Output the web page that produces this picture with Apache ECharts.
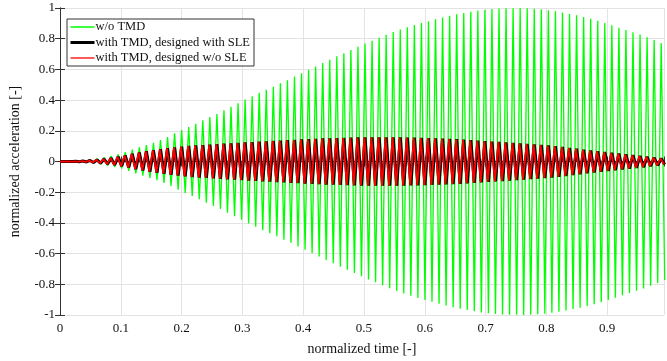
<!DOCTYPE html>
<html><head><meta charset="utf-8">
<script src="https://cdn.jsdelivr.net/npm/echarts@6/dist/echarts.min.js"></script>
<style>html,body{margin:0;padding:0;background:#fff}#c{width:667px;height:361px}</style>
</head><body><div id="c"></div>
<script>
// carrier period (normalized time)
const period = 0.0116;
// small phase lead of the red response relative to the black one
const redShift = -0.001;
// per-cycle amplitudes
const greenAmp = [0,0.001,0.003,0.006,0.012,0.018,0.027,0.036,0.047,0.061,
0.078,0.092,0.107,0.122,0.14,0.16,0.183,0.205,0.225,0.245,
0.268,0.289,0.31,0.333,0.356,0.38,0.403,0.425,0.447,0.468,
0.487,0.509,0.53,0.553,0.575,0.597,0.619,0.641,0.663,0.685,
0.705,0.726,0.747,0.768,0.787,0.806,0.825,0.843,0.86,0.875,
0.89,0.902,0.913,0.926,0.938,0.949,0.959,0.968,0.976,0.983,
0.989,0.993,0.996,0.998,0.999,1.0,0.998,0.995,0.991,0.985,
0.978,0.97,0.961,0.952,0.942,0.93,0.917,0.902,0.887,0.872,
0.857,0.842,0.827,0.81,0.792,0.772];
const blackAmp = [0,0.0005,0.001,0.003,0.007,0.011,0.016,0.022,0.03,0.039,
0.05,0.058,0.066,0.073,0.08,0.086,0.092,0.097,0.101,0.104,
0.107,0.11,0.113,0.116,0.118,0.121,0.124,0.126,0.129,0.131,
0.134,0.136,0.139,0.141,0.144,0.146,0.148,0.15,0.151,0.153,
0.154,0.156,0.157,0.158,0.158,0.158,0.158,0.158,0.157,0.156,
0.155,0.154,0.153,0.151,0.149,0.147,0.145,0.142,0.139,0.136,
0.133,0.13,0.127,0.124,0.121,0.118,0.115,0.112,0.108,0.105,
0.1,0.095,0.089,0.083,0.077,0.072,0.067,0.062,0.057,0.052,
0.047,0.042,0.037,0.031,0.026,0.02];
const redAmp = [0,0.0005,0.001,0.003,0.007,0.011,0.016,0.022,0.03,0.039,
0.049,0.057,0.065,0.072,0.079,0.085,0.091,0.096,0.1,0.103,
0.106,0.109,0.112,0.115,0.117,0.12,0.123,0.125,0.128,0.13,
0.133,0.135,0.138,0.14,0.143,0.145,0.147,0.149,0.15,0.152,
0.153,0.155,0.156,0.157,0.157,0.157,0.157,0.157,0.156,0.155,
0.154,0.153,0.152,0.15,0.148,0.146,0.144,0.141,0.138,0.135,
0.132,0.129,0.126,0.123,0.12,0.117,0.114,0.111,0.107,0.104,
0.099,0.094,0.088,0.082,0.076,0.071,0.066,0.061,0.056,0.051,
0.046,0.041,0.036,0.03,0.025,0.019];
const seriesNames = ['w/o TMD','with TMD, designed with SLE','with TMD, designed w/o SLE'];
const xTicks = [0,0.1,0.2,0.3,0.4,0.5,0.6,0.7,0.8,0.9];
const yTicks = [-1,-0.8,-0.6,-0.4,-0.2,0,0.2,0.4,0.6,0.8,1];

function build(amp, shift){
  const d=[[0,0]];
  amp.forEach((a,k)=>{ d.push([(k+0.25)*period+shift,a]); d.push([(k+0.75)*period+shift,-a]); });
  return d;
}
const font='"Liberation Serif","Times New Roman",serif';
const frame='#333';
const chart=echarts.init(document.getElementById('c'),null,{renderer:'canvas'});
const xCommon={type:'value',min:0,max:0.9935,interval:0.1,
  axisLine:{show:true,lineStyle:{color:frame,width:1}},
  axisTick:{show:true,inside:true,length:5,lineStyle:{color:frame}}};
const yCommon={type:'value',min:-1,max:1,interval:0.2,
  axisLine:{show:true,lineStyle:{color:frame,width:1}},
  axisTick:{show:true,inside:true,length:5,lineStyle:{color:frame}}};
chart.setOption({
  animation:false,
  grid:{left:56,right:1,top:8,bottom:45,containLabel:false},
  legend:{orient:'vertical',left:67,top:19,padding:[1.5,4,1.5,2],itemGap:2.5,itemWidth:24,itemHeight:13,
    backgroundColor:'#fff',borderColor:'#333',borderWidth:1,
    itemStyle:{opacity:0,borderWidth:0},
    textStyle:{fontFamily:font,fontSize:12.5,color:'#111',padding:[0,0,0,-4]},
    data:[{name:seriesNames[0],lineStyle:{width:1.5}},
          {name:seriesNames[1],lineStyle:{width:3}},
          {name:seriesNames[2],lineStyle:{width:1.3}}]},
  xAxis:[Object.assign({},xCommon,{position:'bottom',
      name:'normalized time [-]',nameLocation:'middle',nameGap:27,
      nameTextStyle:{fontFamily:font,fontSize:14,color:'#111'},
      axisLabel:{fontFamily:font,fontSize:13,color:'#111',margin:7,
        formatter:v=>xTicks.includes(Math.round(v*10)/10)?String(Math.round(v*10)/10):''},
      splitLine:{show:true,lineStyle:{color:'#e3e3e3',width:1}}}),
    Object.assign({},xCommon,{position:'top',axisLabel:{show:false},splitLine:{show:false}})],
  yAxis:[Object.assign({},yCommon,{position:'left',
      name:'normalized acceleration [-]',nameLocation:'middle',nameGap:38,
      nameTextStyle:{fontFamily:font,fontSize:14,color:'#111'},
      axisLabel:{fontFamily:font,fontSize:13,color:'#111',margin:5,
        formatter:v=>{const r=Math.round(v*10)/10; return yTicks.includes(r)?String(r):'';}},
      splitLine:{show:true,lineStyle:{color:'#e3e3e3',width:1}}}),
    Object.assign({},yCommon,{position:'right',axisLabel:{show:false},splitLine:{show:false}})],
  series:[
    {name:seriesNames[0],type:'line',data:build(greenAmp,0),showSymbol:false,symbol:'none',
      lineStyle:{color:'#00ff00',width:1.3},itemStyle:{color:'#00ff00'},z:2},
    {name:seriesNames[1],type:'line',data:build(blackAmp,0),showSymbol:false,symbol:'none',
      lineStyle:{color:'#000',width:3},itemStyle:{color:'#000'},z:3},
    {name:seriesNames[2],type:'line',data:build(redAmp,redShift),showSymbol:false,symbol:'none',
      lineStyle:{color:'#ff0000',width:1.8},itemStyle:{color:'#ff0000'},z:4}
  ]
});
</script></body></html>
